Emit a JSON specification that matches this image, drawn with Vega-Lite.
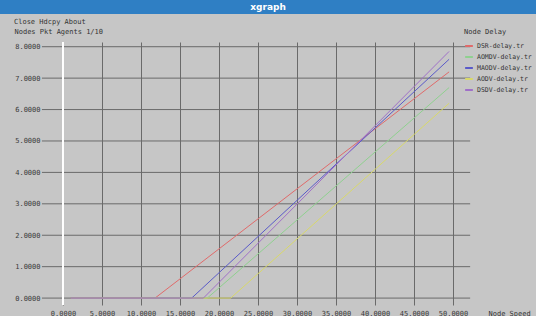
{
  "$schema": "https://vega.github.io/schema/vega-lite/v6.json",
  "background": "#c6c6c6",
  "padding": 0,
  "spacing": 4,
  "columns": 1,
  "align": "none",
  "resolve": {"legend": {"color": "independent"}},
  "config": {
    "view": {"stroke": null},
    "font": "DejaVu Sans Mono",
    "axis": {"labelFont": "DejaVu Sans Mono", "titleFont": "DejaVu Sans Mono", "labelOverlap": false},
    "legend": {"labelFont": "DejaVu Sans Mono", "titleFont": "DejaVu Sans Mono"}
  },
  "concat": [
    {
      "width": 536,
      "height": 14,
      "view": {"fill": "#2f7fc4", "stroke": null},
      "data": {"values": [{"t": "xgraph"}]},
      "mark": {"type": "text", "color": "white", "fontWeight": "bold", "fontSize": 9, "font": "DejaVu Sans"},
      "encoding": {"text": {"field": "t"}}
    },
    {
      "width": 470,
      "height": 263,
      "title": {"text": "Close  Hdcpy  About", "anchor": "start", "frame": "group", "dx": 14, "offset": 2, "fontSize": 7, "fontWeight": "normal", "color": "#333333", "font": "DejaVu Sans Mono"},
      "data": {"values": [
        {"series": "DSR-delay.tr", "speed": 1, "delay": 0},
        {"series": "DSR-delay.tr", "speed": 11.8, "delay": 0},
        {"series": "DSR-delay.tr", "speed": 49.5, "delay": 7.2},
        {"series": "AOMDV-delay.tr", "speed": 1, "delay": 0},
        {"series": "AOMDV-delay.tr", "speed": 18.5, "delay": 0},
        {"series": "AOMDV-delay.tr", "speed": 49.5, "delay": 6.7},
        {"series": "MAODV-delay.tr", "speed": 1, "delay": 0},
        {"series": "MAODV-delay.tr", "speed": 16.5, "delay": 0},
        {"series": "MAODV-delay.tr", "speed": 49.5, "delay": 7.6},
        {"series": "AODV-delay.tr", "speed": 1, "delay": 0},
        {"series": "AODV-delay.tr", "speed": 21.5, "delay": 0},
        {"series": "AODV-delay.tr", "speed": 49.5, "delay": 6.2},
        {"series": "DSDV-delay.tr", "speed": 1, "delay": 0},
        {"series": "DSDV-delay.tr", "speed": 18, "delay": 0},
        {"series": "DSDV-delay.tr", "speed": 49.5, "delay": 7.85}
      ]},
      "layer": [
        {
          "data": {"values": [{"g": 0}, {"g": 1}, {"g": 2}, {"g": 3}, {"g": 4}, {"g": 5}, {"g": 6}, {"g": 7}, {"g": 8}]},
          "mark": {"type": "rule", "color": "#6a6a6a", "strokeWidth": 1},
          "encoding": {
            "y": {"field": "g", "type": "quantitative",
              "scale": {"domain": [-0.22, 8.15], "nice": false, "zero": false},
              "axis": {"values": [0,1,2,3,4,5,6,7,8], "tickCount": 9, "format": ".4f", "grid": false, "domain": false, "ticks": false, "offset": -42, "labelOverlap": false, "labelBound": false, "labelFontSize": 7, "labelColor": "#3a3a3a", "labelPadding": 2,
                "title": "Nodes Pkt Agents 1/10", "titleAngle": 0, "titleFontSize": 7, "titleFontWeight": "normal", "titleColor": "#333333", "titleX": -28, "titleY": -11, "titleAlign": "left", "titleBaseline": "middle", "titleAnchor": null}},
            "x": {"datum": -2.7, "type": "quantitative",
              "scale": {"domain": [-8.077, 52.18], "nice": false, "zero": false},
              "axis": {"values": [0,5,10,15,20,25,30,35,40,45,50], "tickCount": 11, "format": ".4f", "grid": true, "gridColor": "#6a6a6a", "gridOpacity": 1, "domain": false, "ticks": false, "labelOverlap": false, "labelFontSize": 7, "labelColor": "#3a3a3a", "labelPadding": 4,
                "title": "Node Speed", "titleFontSize": 7, "titleFontWeight": "normal", "titleColor": "#333333", "titleX": 488, "titleY": 8, "titleAlign": "left", "titleBaseline": "middle", "titleAnchor": null}},
            "x2": {"datum": 52.2}
          }
        },
        {
          "mark": {"type": "rule", "color": "#ffffff", "strokeWidth": 1},
          "encoding": {"x": {"datum": 0, "type": "quantitative"}}
        },
        {
          "mark": {"type": "line", "strokeWidth": 1},
          "encoding": {
            "x": {"field": "speed", "type": "quantitative"},
            "y": {"field": "delay", "type": "quantitative"},
            "color": {"field": "series", "type": "nominal",
              "scale": {"domain": ["DSR-delay.tr", "AOMDV-delay.tr", "MAODV-delay.tr", "AODV-delay.tr", "DSDV-delay.tr"],
                        "range": ["#e06a6a", "#8fd08f", "#5a5ac8", "#d8d86a", "#a070c8"]},
              "legend": {"orient": "none", "legendX": 464, "legendY": -14, "title": "Node Delay", "titleFontSize": 7, "titleFontWeight": "normal", "titleColor": "#333333", "titlePadding": 6,
                "symbolType": "stroke", "symbolSize": 60, "symbolStrokeWidth": 2, "labelFontSize": 6.5, "labelOffset": 3, "labelColor": "#333333", "rowPadding": 2}},
            "order": {"field": "series"}
          }
        }
      ]
    }
  ]
}
